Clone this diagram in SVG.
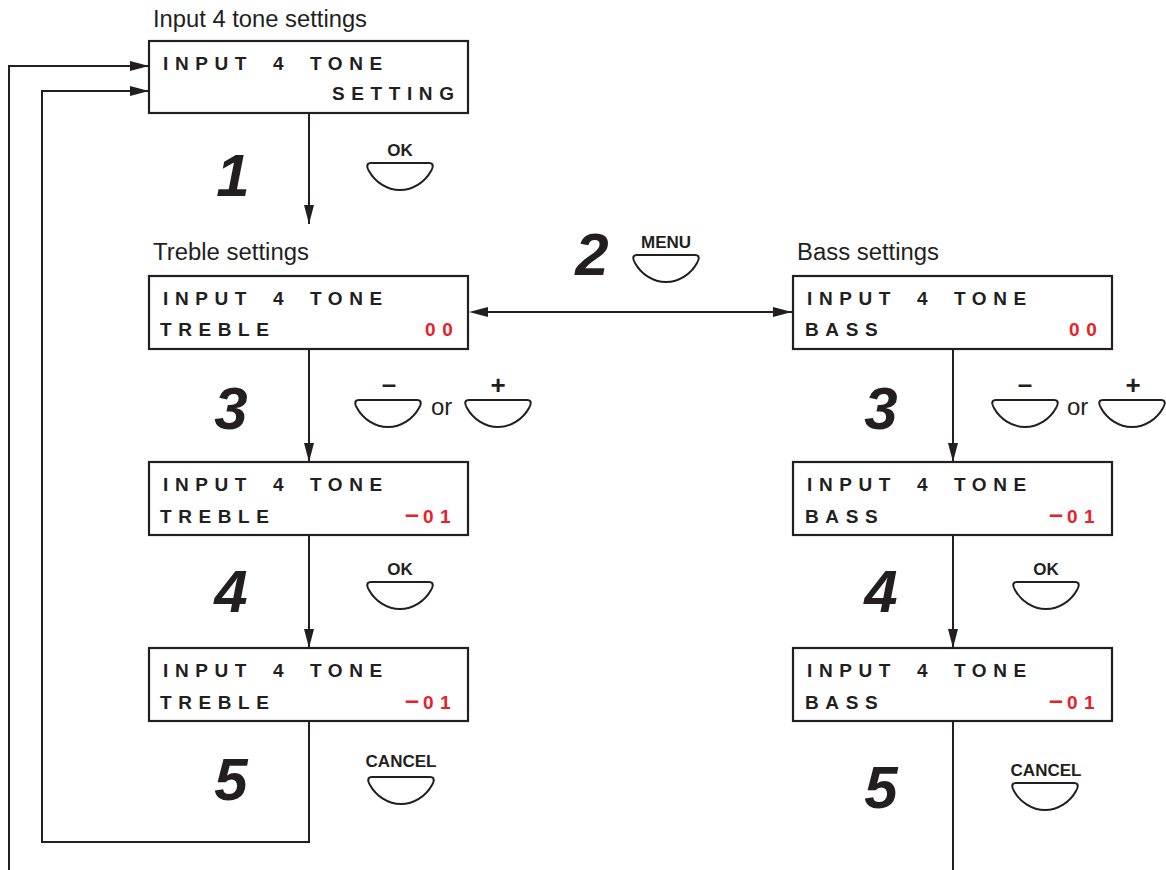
<svg xmlns="http://www.w3.org/2000/svg" width="1166" height="870" viewBox="0 0 1166 870">
<defs>
<marker id="ah" markerUnits="userSpaceOnUse" markerWidth="20" markerHeight="11" refX="19" refY="5" orient="auto">
<path d="M0,0 L19,5 L0,10 Z" fill="#231f20"/>
</marker>
<path id="btn" d="M4,0 H62 C66,0 67,3 64,8 C58,19 46,27 33,27 C20,27 8,19 2,8 C-1,3 0,0 4,0 Z" fill="#fff" stroke="#231f20" stroke-width="2"/>
</defs>
<style>
.box{fill:#fff;stroke:#231f20;stroke-width:2.2}
.lcd{font-family:"Liberation Sans",Arial,sans-serif;font-weight:bold;font-size:19px;letter-spacing:6.6px;word-spacing:8px;fill:#231f20}
.val{fill:#e8202a}
.dash{font-size:25px;letter-spacing:4px}
.lbl{font-family:"Liberation Sans",Arial,sans-serif;font-size:23px;fill:#231f20}
.num{font-family:"Liberation Sans",Arial,sans-serif;font-weight:bold;font-style:italic;font-size:60px;fill:#231f20;text-anchor:middle}
.key{font-family:"Liberation Sans",Arial,sans-serif;font-weight:bold;font-size:17px;fill:#231f20;text-anchor:middle}
.sym{font-family:"Liberation Sans",Arial,sans-serif;font-weight:bold;font-size:26px;fill:#231f20;text-anchor:middle}
.or{font-family:"Liberation Sans",Arial,sans-serif;font-size:24px;fill:#231f20}
.ln{fill:none;stroke:#231f20;stroke-width:2}
</style>
<rect width="1166" height="870" fill="#fff"/>

<g id="connectors">
<path class="ln" d="M309,113 V224" marker-end="url(#ah)"/>
<path class="ln" d="M309,349 V462" marker-end="url(#ah)"/>
<path class="ln" d="M309,535 V648" marker-end="url(#ah)"/>
<path class="ln" d="M309,721 V842 H42 V91 H149" marker-end="url(#ah)"/>
<path class="ln" d="M9,870 V66 H149" marker-end="url(#ah)"/>
<path class="ln" d="M953,349 V462" marker-end="url(#ah)"/>
<path class="ln" d="M953,535 V648" marker-end="url(#ah)"/>
<path class="ln" d="M953,721 V870"/>
<path class="ln" d="M480,312 H792" marker-end="url(#ah)"/>
<path d="M469,312 L488,307 L488,317 Z" fill="#231f20"/>
</g>

<g id="n-top">
<text class="lbl" x="153" y="27" textLength="214" lengthAdjust="spacingAndGlyphs">Input 4 tone settings</text>
<rect class="box" x="149" y="41" width="319" height="72"/>
<text class="lcd" x="163" y="70">INPUT 4 TONE</text>
<text class="lcd" x="332" y="100">SETTING</text>
</g>

<g id="n-treble1">
<text class="lbl" x="153" y="260" textLength="156" lengthAdjust="spacingAndGlyphs">Treble settings</text>
<rect class="box" x="149" y="276" width="319" height="73"/>
<text class="lcd" x="163" y="305">INPUT 4 TONE</text>
<text class="lcd" x="160" y="336">TREBLE</text>
<text class="lcd val" x="425" y="336">00</text>
</g>

<g id="n-treble2">
<rect class="box" x="149" y="462" width="319" height="73"/>
<text class="lcd" x="163" y="491">INPUT 4 TONE</text>
<text class="lcd" x="160" y="523">TREBLE</text>
<text class="lcd val" x="405" y="523"><tspan class="dash">–</tspan>01</text>
</g>

<g id="n-treble3">
<rect class="box" x="149" y="648" width="319" height="73"/>
<text class="lcd" x="163" y="677">INPUT 4 TONE</text>
<text class="lcd" x="160" y="709">TREBLE</text>
<text class="lcd val" x="405" y="709"><tspan class="dash">–</tspan>01</text>
</g>

<g id="n-bass1">
<text class="lbl" x="797" y="260" textLength="142" lengthAdjust="spacingAndGlyphs">Bass settings</text>
<rect class="box" x="793" y="276" width="319" height="73"/>
<text class="lcd" x="807" y="305">INPUT 4 TONE</text>
<text class="lcd" x="805" y="336">BASS</text>
<text class="lcd val" x="1069" y="336">00</text>
</g>

<g id="n-bass2">
<rect class="box" x="793" y="462" width="319" height="73"/>
<text class="lcd" x="807" y="491">INPUT 4 TONE</text>
<text class="lcd" x="805" y="523">BASS</text>
<text class="lcd val" x="1049" y="523"><tspan class="dash">–</tspan>01</text>
</g>

<g id="n-bass3">
<rect class="box" x="793" y="648" width="319" height="73"/>
<text class="lcd" x="807" y="677">INPUT 4 TONE</text>
<text class="lcd" x="805" y="709">BASS</text>
<text class="lcd val" x="1049" y="709"><tspan class="dash">–</tspan>01</text>
</g>

<g id="steps">
<text class="num" x="233" y="196">1</text>
<text class="num" x="592" y="275">2</text>
<text class="num" x="231" y="429">3</text>
<text class="num" x="881" y="429">3</text>
<text class="num" x="231" y="612">4</text>
<text class="num" x="881" y="612">4</text>
<text class="num" x="231" y="800">5</text>
<text class="num" x="881" y="808">5</text>
</g>

<g id="buttons">
<text class="key" x="400" y="156">OK</text>
<use href="#btn" x="367" y="163"/>
<text class="key" x="666" y="248">MENU</text>
<use href="#btn" x="633" y="255"/>
<text class="sym" x="389" y="393">–</text>
<use href="#btn" x="355" y="400"/>
<text class="or" x="431" y="415">or</text>
<text class="sym" x="498" y="394">+</text>
<use href="#btn" x="465" y="400"/>
<text class="sym" x="1025" y="393">–</text>
<use href="#btn" x="992" y="400"/>
<text class="or" x="1067" y="415">or</text>
<text class="sym" x="1133" y="394">+</text>
<use href="#btn" x="1099" y="400"/>
<text class="key" x="400" y="575">OK</text>
<use href="#btn" x="367" y="582"/>
<text class="key" x="1046" y="575">OK</text>
<use href="#btn" x="1013" y="582"/>
<text class="key" x="401" y="767">CANCEL</text>
<use href="#btn" x="368" y="777"/>
<text class="key" x="1046" y="776">CANCEL</text>
<use href="#btn" x="1012" y="783"/>
</g>
</svg>
